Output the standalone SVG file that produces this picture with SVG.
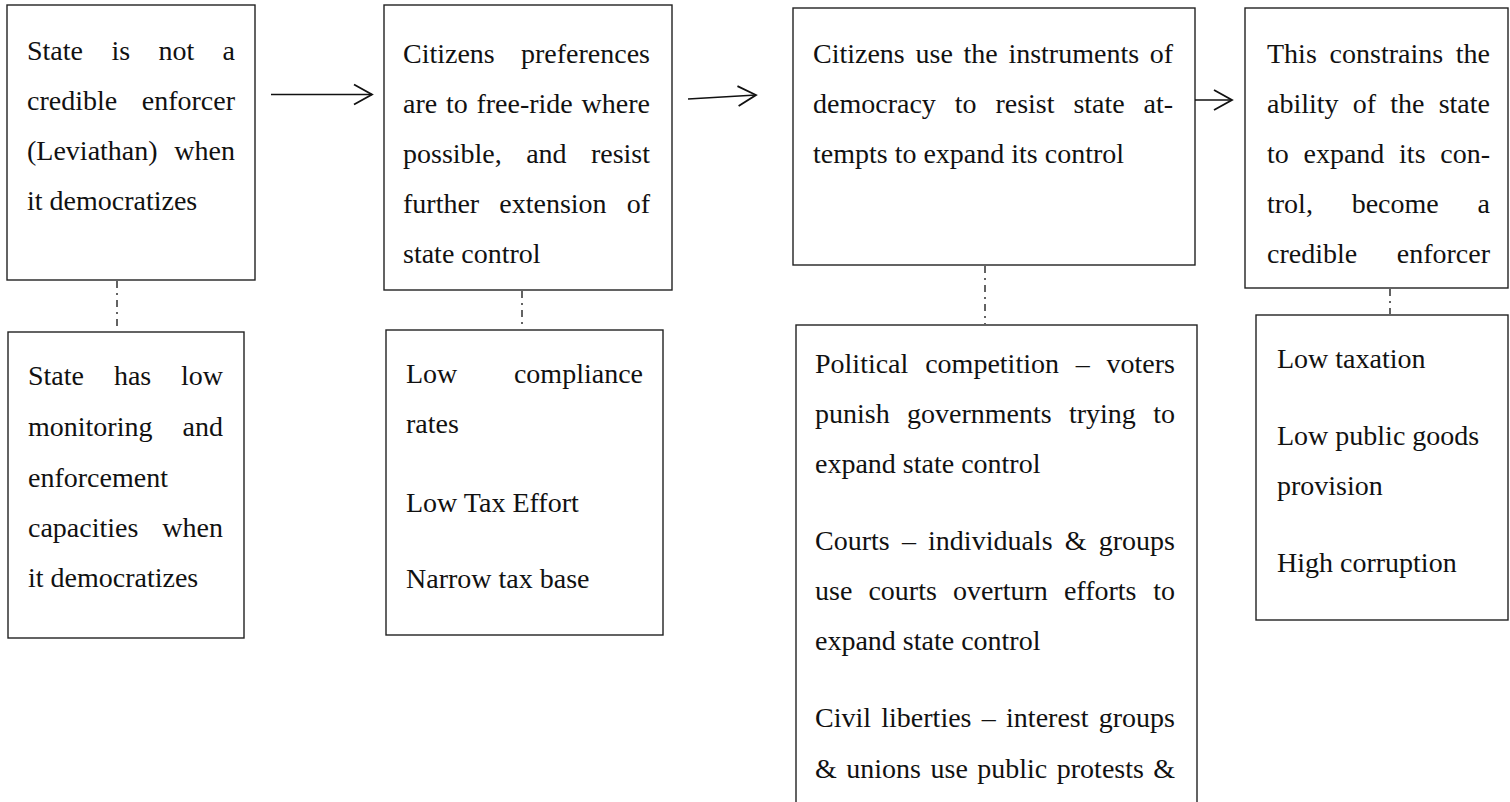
<svg xmlns="http://www.w3.org/2000/svg" width="1510" height="802" viewBox="0 0 1510 802">
<style>
.t{font-family:"Liberation Serif","Times New Roman",serif;font-size:28px;fill:#111}
.r{text-anchor:end}
.box{fill:#fff;stroke:#222;stroke-width:1.4}
.dd{stroke:#222;stroke-width:1.4;stroke-dasharray:7 5 2 5;fill:none}
.arr{stroke:#111;stroke-width:1.6;fill:none}
</style>
<defs>
<marker id="ah" viewBox="0 0 18 20" refX="18" refY="10" markerWidth="18" markerHeight="20" markerUnits="userSpaceOnUse" orient="auto" overflow="visible">
<path d="M0,0 L18,10 L0,20" fill="none" stroke="#111" stroke-width="1.8"/>
</marker>
</defs>
<rect width="1510" height="802" fill="#fff"/>

<g id="n1">
<rect class="box" x="7" y="5" width="248" height="275"/>
<text class="t" y="60"><tspan x="27">State</tspan><tspan x="111.4">is</tspan><tspan x="158.4">not</tspan></text><text class="t r" x="235" y="60">a</text>
<text class="t" x="27" y="110">credible</text><text class="t r" x="235" y="110">enforcer</text>
<text class="t" x="27" y="160">(Leviathan)</text><text class="t r" x="235" y="160">when</text>
<text class="t" x="27" y="210">it democratizes</text>
</g>

<g id="n1b">
<rect class="box" x="8" y="332" width="236" height="306"/>
<text class="t" y="385"><tspan x="28">State</tspan><tspan x="113.9">has</tspan></text><text class="t r" x="223" y="385">low</text>
<text class="t" x="28" y="436">monitoring</text><text class="t r" x="223" y="436">and</text>
<text class="t" x="28" y="487">enforcement</text>
<text class="t" x="28" y="537">capacities</text><text class="t r" x="223" y="537">when</text>
<text class="t" x="28" y="587">it democratizes</text>
</g>

<g id="n2">
<rect class="box" x="384" y="5" width="288" height="285"/>
<text class="t" x="403" y="63">Citizens</text><text class="t r" x="650" y="63">preferences</text>
<text class="t" y="113"><tspan x="403">are</tspan><tspan x="445.9">to</tspan><tspan x="476.4">free-ride</tspan></text><text class="t r" x="650" y="113">where</text>
<text class="t" y="163"><tspan x="403">possible,</tspan><tspan x="526.2">and</tspan></text><text class="t r" x="650" y="163">resist</text>
<text class="t" y="213"><tspan x="403">further</tspan><tspan x="499.3">extension</tspan></text><text class="t r" x="650" y="213">of</text>
<text class="t" x="403" y="263">state control</text>
</g>

<g id="n2b">
<rect class="box" x="386" y="330" width="277" height="305"/>
<text class="t" x="406" y="383">Low</text><text class="t r" x="643" y="383">compliance</text>
<text class="t" x="406" y="433">rates</text>
<text class="t" x="406" y="512">Low Tax Effort</text>
<text class="t" x="406" y="588">Narrow tax base</text>
</g>

<g id="n3">
<rect class="box" x="793" y="8" width="402" height="257"/>
<text class="t" y="63"><tspan x="813">Citizens</tspan><tspan x="915.5">use</tspan><tspan x="963.5">the</tspan><tspan x="1008.4">instruments</tspan></text><text class="t r" x="1173" y="63">of</text>
<text class="t" y="113"><tspan x="813">democracy</tspan><tspan x="954.7">to</tspan><tspan x="995.4">resist</tspan><tspan x="1073.4">state</tspan></text><text class="t r" x="1173" y="113">at-</text>
<text class="t" x="813" y="163">tempts to expand its control</text>
</g>

<g id="n3b">
<rect class="box" x="796" y="325" width="401" height="500"/>
<text class="t" y="373"><tspan x="815">Political</tspan><tspan x="925.2">competition</tspan><tspan x="1075.8">–</tspan></text><text class="t r" x="1175" y="373">voters</text>
<text class="t" y="423"><tspan x="815">punish</tspan><tspan x="907">governments</tspan><tspan x="1068.9">trying</tspan></text><text class="t r" x="1175" y="423">to</text>
<text class="t" x="815" y="473">expand state control</text>
<text class="t" y="550"><tspan x="815">Courts</tspan><tspan x="901.9">–</tspan><tspan x="928.1">individuals</tspan><tspan x="1064.8">&amp;</tspan></text><text class="t r" x="1175" y="550">groups</text>
<text class="t" y="600"><tspan x="815">use</tspan><tspan x="868.4">courts</tspan><tspan x="952.9">overturn</tspan><tspan x="1063.9">efforts</tspan></text><text class="t r" x="1175" y="600">to</text>
<text class="t" x="815" y="650">expand state control</text>
<text class="t" y="727"><tspan x="815">Civil</tspan><tspan x="881.3">liberties</tspan><tspan x="981.8">–</tspan><tspan x="1006.1">interest</tspan></text><text class="t r" x="1175" y="727">groups</text>
<text class="t" y="778"><tspan x="815">&amp;</tspan><tspan x="846.3">unions</tspan><tspan x="930.5">use</tspan><tspan x="977.3">public</tspan><tspan x="1056.8">protests</tspan></text><text class="t r" x="1175" y="778">&amp;</text>
</g>

<g id="n4">
<rect class="box" x="1245" y="8" width="263" height="280"/>
<text class="t" y="63"><tspan x="1267">This</tspan><tspan x="1329.6">constrains</tspan></text><text class="t r" x="1490" y="63">the</text>
<text class="t" y="113"><tspan x="1267">ability</tspan><tspan x="1352.8">of</tspan><tspan x="1390.3">the</tspan></text><text class="t r" x="1490" y="113">state</text>
<text class="t" y="163"><tspan x="1267">to</tspan><tspan x="1303.5">expand</tspan><tspan x="1399.1">its</tspan></text><text class="t r" x="1490" y="163">con-</text>
<text class="t" y="213"><tspan x="1267">trol,</tspan><tspan x="1351.7">become</tspan></text><text class="t r" x="1490" y="213">a</text>
<text class="t" x="1267" y="263">credible</text><text class="t r" x="1490" y="263">enforcer</text>
</g>

<g id="n4b">
<rect class="box" x="1256" y="315" width="252" height="305"/>
<text class="t" x="1277" y="368">Low taxation</text>
<text class="t" x="1277" y="445">Low public goods</text>
<text class="t" x="1277" y="495">provision</text>
<text class="t" x="1277" y="572">High corruption</text>
</g>

<g id="connectors">
<line class="dd" x1="117" y1="281" x2="117" y2="331"/>
<line class="dd" x1="522" y1="291" x2="522" y2="329"/>
<line class="dd" x1="985" y1="266" x2="985" y2="324"/>
<line class="dd" x1="1390" y1="289" x2="1390" y2="314"/>
<line class="arr" x1="271" y1="94.5" x2="372" y2="94.5" marker-end="url(#ah)"/>
<line class="arr" x1="688" y1="99" x2="756" y2="95" marker-end="url(#ah)"/>
<line class="arr" x1="1195" y1="100" x2="1232" y2="100" marker-end="url(#ah)"/>
</g>
</svg>
